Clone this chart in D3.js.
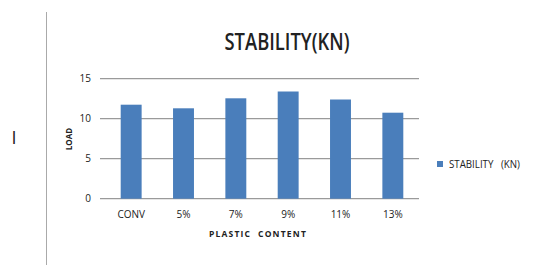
<!DOCTYPE html>
<html>
<head>
<meta charset="utf-8">
<script src="https://cdn.jsdelivr.net/npm/d3@7"></script>
<style>
  body { margin: 0; background: #fff; }
  text { font-family: "Open Sans", "DejaVu Sans Condensed", sans-serif; fill: #222; }
</style>
</head>
<body>
<div id="chart"></div>
<script>
"use strict";

const categories = ['CONV', '5%', '7%', '9%', '11%', '13%'];
const stability = [11.75, 11.3, 12.55, 13.4, 12.4, 10.75];
const yTicks = [0, 5, 10, 15];
const seriesName = 'STABILITY\u00a0\u00a0\u00a0(KN)';

const width = 535;
const height = 265;

let svg = d3.select('#chart')
  .append('svg')
  .attr('width', width)
  .attr('height', height);

// page margin line and stray mark
svg.append('line')
  .attr('x1', 46.5).attr('x2', 46.5)
  .attr('y1', 12).attr('y2', height)
  .attr('stroke', '#aaa')
  .attr('stroke-width', 1);

svg.append('text')
  .attr('x', 14)
  .attr('y', 144)
  .attr('text-anchor', 'middle')
  .style('font-size', '18px')
  .text('I');

let x = d3.scaleBand()
  .domain(categories)
  .range([105, 419])
  .paddingInner(0.6)
  .paddingOuter(0.3);

let y = d3.scaleLinear()
  .domain([0, 15])
  .range([198.7, 78.7]);

// gridlines
svg.append('g')
  .selectAll('line')
  .data(yTicks)
  .join('line')
  .attr('x1', 100)
  .attr('x2', 419)
  .attr('y1', d => y(d))
  .attr('y2', d => y(d))
  .attr('stroke', '#9a9a9a')
  .attr('stroke-width', 1.2);

// y axis labels
let yAxis = svg.append('g')
  .attr('transform', 'translate(100,0)')
  .call(d3.axisLeft(y).tickValues(yTicks).tickSize(0).tickPadding(9));
yAxis.select('.domain').remove();
yAxis.selectAll('text')
  .style('font-family', '"Open Sans", sans-serif')
  .style('font-size', '10px')
  .attr('fill', '#333');

// bars
svg.append('g')
  .selectAll('rect')
  .data(stability)
  .join('rect')
  .attr('x', (d, i) => x(categories[i]))
  .attr('y', d => y(d))
  .attr('width', x.bandwidth())
  .attr('height', d => y(0) - y(d))
  .attr('fill', '#4a7ebb');

// x axis labels
let xAxis = svg.append('g')
  .attr('transform', 'translate(0,' + y(0) + ')')
  .call(d3.axisBottom(x).tickSize(0).tickPadding(12));
xAxis.select('.domain').remove();
xAxis.selectAll('text')
  .style('font-family', '"Open Sans", sans-serif')
  .style('font-size', '10px')
  .attr('fill', '#333');

// title
svg.append('text')
  .attr('x', 287)
  .attr('y', 50)
  .attr('text-anchor', 'middle')
  .attr('textLength', 125)
  .attr('lengthAdjust', 'spacingAndGlyphs')
  .style('font-size', '23px')
  .style('font-weight', '600')
  .text('STABILITY(KN)');

// axis titles
svg.append('text')
  .attr('x', 258)
  .attr('y', 237)
  .attr('text-anchor', 'middle')
  .style('font-size', '8.5px')
  .style('font-weight', 'bold')
  .style('letter-spacing', '1.2px')
  .text('PLASTIC\u00a0\u00a0CONTENT');

svg.append('text')
  .attr('transform', 'translate(72,139) rotate(-90)')
  .attr('text-anchor', 'middle')
  .style('font-size', '8px')
  .style('font-weight', 'bold')
  .text('LOAD');

// legend
let legend = svg.append('g')
  .attr('transform', 'translate(437,164)');
legend.append('rect')
  .attr('x', 0).attr('y', -3)
  .attr('width', 6).attr('height', 6)
  .attr('fill', '#4a7ebb');
legend.append('text')
  .attr('x', 12)
  .attr('y', 3.5)
  .attr('textLength', 71)
  .attr('lengthAdjust', 'spacingAndGlyphs')
  .style('font-size', '10px')
  .text(seriesName);
</script>
</body>
</html>
